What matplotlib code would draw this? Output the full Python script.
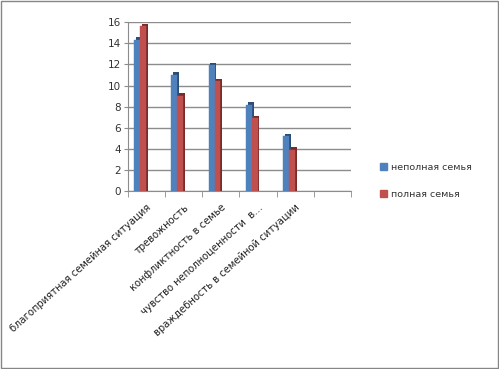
import matplotlib.pyplot as plt
import matplotlib.patches as mpatches
import numpy as np

# chart data
categories = ['благоприятная семейная ситуация', 'тревожность', 'конфликтность в семье',
              'чувство неполноценности  в...', 'враждебность в семейной ситуации', '']
incomplete = [14.3, 11.0, 11.9, 8.2, 5.2, np.nan]
complete = [15.6, 9.0, 10.4, 6.9, 3.9, np.nan]
series_names = ['неполная семья', 'полная семья']
colors = ['#4F81BD', '#C0504D']
dark_colors = ['#2C4D75', '#772C2A']

fig = plt.figure(figsize=(4.99, 3.69), dpi=100)
ax = fig.add_axes([0.2565, 0.482, 0.4465, 0.458])

x = np.arange(len(categories))
w = 0.16
dx, dy = 0.05, 0.25  # fake 3d depth

for i, vals in enumerate([incomplete, complete]):
    pos = x - 0.25 + i * w
    # dark side of the bar, slightly shifted back
    ax.bar(pos + dx, np.array(vals) + dy, width=w, bottom=0, color=dark_colors[i], zorder=2 + i)
    ax.bar(pos, vals, width=w, color=colors[i], zorder=3 + i, label=series_names[i],
           edgecolor=colors[i], linewidth=0.3)

ax.set_xlim(-0.5, len(categories) - 0.5)
ax.set_ylim(0, 16)
ax.set_yticks(np.arange(0, 17, 2))
ax.yaxis.grid(True, color='#8C8C8C', linewidth=1.0, zorder=0)
ax.set_axisbelow(True)
for s in ['top', 'right']:
    ax.spines[s].set_visible(False)
ax.spines['left'].set_color('#8C8C8C')
ax.spines['bottom'].set_color('#8C8C8C')
ax.tick_params(axis='y', length=3, colors='#8C8C8C', labelcolor='#333333', labelsize=7.5, pad=2)

ax.set_xticks(np.arange(len(categories) + 1) - 0.5, minor=True)
ax.set_xticks(x)
ax.set_xticklabels(categories, rotation=42, ha='right', rotation_mode='anchor',
                   fontsize=7.2, color='#222222')
ax.tick_params(axis='x', which='major', length=0, pad=8)
ax.tick_params(axis='x', which='minor', length=4, color='#8C8C8C')

handles = [mpatches.Patch(color=c) for c in colors]
fig.legend(handles, series_names, loc='center left', bbox_to_anchor=(0.745, 0.51),
           frameon=False, fontsize=6.8, handlelength=0.7, handleheight=0.7,
           labelspacing=1.9, handletextpad=0.4, labelcolor='#333333')

# outer frame
fig.patches.append(mpatches.Rectangle((0.002, 0.003), 0.995, 0.994, transform=fig.transFigure,
                                      fill=False, edgecolor='#868686', linewidth=1))

fig.savefig('out.png', dpi=100)
